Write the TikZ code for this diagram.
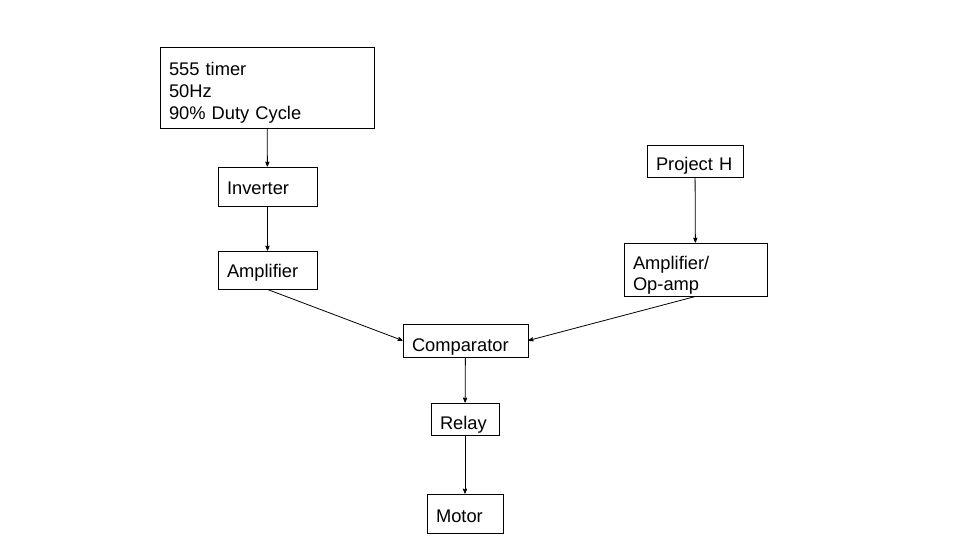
\documentclass[tikz,border=0pt]{standalone}
\usepackage{fontspec}
\setmainfont{Liberation Sans}
\usetikzlibrary{arrows}
\usetikzlibrary{positioning}

\tikzset{
  blk/.style={draw,rectangle,line width=0.9pt,inner xsep=9pt,inner ysep=0pt,
    align=left,text depth=0pt,font=\fontsize{18.3}{21.7}\selectfont},
}

\begin{document}
\begin{tikzpicture}[x=1pt,y=-1pt]

  \useasboundingbox (0,0) rectangle (960,540);

  \node [blk,minimum width=214pt,minimum height=81pt,text width=196pt,text height=23.4pt,text depth=47pt] (timer) at (267,87.5)
    {555 timer\\50Hz\\90\% Duty Cycle};
  \node [blk,minimum width=99pt,minimum height=39pt,text width=81pt,text height=15pt] (inv) at (267.5,186.5) {Inverter};
  \node [blk,minimum width=99pt,minimum height=38pt,text width=81pt,text height=14pt] (amp) at (267.5,270) {Amplifier};
  \node [blk,minimum width=96pt,minimum height=32pt,text width=78pt,text height=20pt] (projH) at (695,161) {Project H};
  \node [blk,minimum width=143pt,minimum height=53pt,text width=125pt,text height=25pt,text depth=26pt] (opamp) at (695.5,269.5)
    {Amplifier/\\Op-amp};
  \node [blk,minimum width=125pt,minimum height=33pt,text width=107pt,text height=22pt] (comp) at (465.5,340.5) {Comparator};
  \node [blk,minimum width=68pt,minimum height=32pt,text width=50pt,text height=20pt] (relay) at (465,419) {Relay};
  \node [blk,minimum width=76pt,minimum height=39pt,text width=58pt,text height=17pt] (motor) at (465,513.5) {Motor};

  \path [line width=0.8pt,->,>=stealth']
    (timer) edge (inv)
    (inv)   edge (amp)
    (amp.south)   edge (comp.west)
    (projH) edge (opamp)
    (opamp.south) edge (comp.east)
    (comp)  edge (relay)
    (relay) edge (motor);

\end{tikzpicture}
\end{document}
